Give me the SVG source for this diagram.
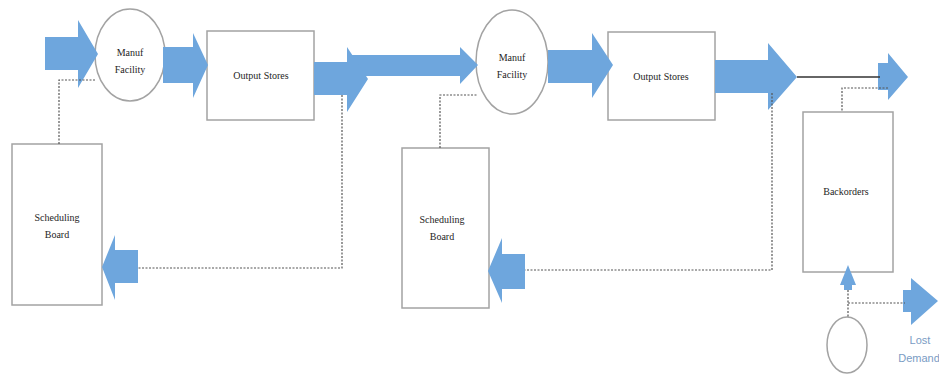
<svg xmlns="http://www.w3.org/2000/svg" width="939" height="374" viewBox="0 0 939 374">
<style>
.box{fill:#fff;stroke:#a3a3a3;stroke-width:1.5}
.arr{fill:#6ea6dd}
.dot{fill:none;stroke:#555;stroke-width:1.2;stroke-dasharray:2 1.5}
.lbl{font-family:"Liberation Serif","Times New Roman",serif;font-size:10px;fill:#1e1e1e;text-anchor:middle}
.lost{font-family:"Liberation Sans Narrow","Liberation Sans",Arial,sans-serif;font-size:11px;fill:#7a9cc4;text-anchor:middle}
</style>
<rect width="939" height="374" fill="#fff"/>
<g id="manuf1"><ellipse class="box" cx="130" cy="55" rx="35" ry="46"/><text class="lbl" x="130" y="56">Manuf</text><text class="lbl" x="130" y="73">Facility</text></g>
<g id="output1"><rect class="box" x="207" y="31" width="107" height="89"/><text class="lbl" x="261" y="79">Output Stores</text></g>
<g id="manuf2"><ellipse class="box" cx="512" cy="62" rx="36" ry="52"/><text class="lbl" x="512" y="61">Manuf</text><text class="lbl" x="512" y="78">Facility</text></g>
<g id="output2"><rect class="box" x="608" y="32" width="107" height="88"/><text class="lbl" x="661" y="80">Output Stores</text></g>
<g id="sched1"><rect class="box" x="12" y="144" width="90" height="161"/><text class="lbl" x="57" y="221">Scheduling</text><text class="lbl" x="57" y="238">Board</text></g>
<g id="sched2"><rect class="box" x="402" y="148" width="87" height="160"/><text class="lbl" x="442" y="223">Scheduling</text><text class="lbl" x="442" y="240">Board</text></g>
<g id="backorders"><rect class="box" x="803" y="112" width="90" height="160"/><text class="lbl" x="846" y="195">Backorders</text></g>
<g id="source"><ellipse class="box" cx="847" cy="345" rx="20" ry="28"/></g>
<g id="connectors">
<polygon class="arr" points="45,37 78,37 78,20 98,54 78,88 78,70 45,70"/>
<polygon class="arr" points="163,47 193,47 193,33 208,65 193,98 193,83 163,83"/>
<polygon class="arr" points="352,55 460,55 460,47 478,65 460,84 460,76 352,76"/>
<polygon class="arr" points="314,62 347,62 347,47 368,79 347,112 347,95 314,95"/>
<polygon class="arr" points="548,50 592,50 592,33 613,65 592,98 592,83 548,83"/>
<polygon class="arr" points="715,60 768,60 768,43 797,77 768,110 768,93 715,93"/>
<polygon class="arr" points="878,63 888,63 888,53 908,77 888,100 888,90 878,90"/>
<polygon class="arr" points="138,250 115,250 115,235 102,267 115,300 115,283 138,283"/>
<polygon class="arr" points="525,254 502,254 502,238 488,271 502,303 502,289 525,289"/>
<polygon class="arr" points="848,265 856,285 852,285 852,290 844,290 844,285 840,285"/>
<polygon class="arr" points="903,290 911,290 911,278 938,301 911,325 911,312 903,312"/>
<line x1="797" y1="77" x2="880" y2="77" stroke="#333" stroke-width="1.5"/>
<polyline class="dot" points="59,144 59,80 95,80"/>
<polyline class="dot" points="342,95 342,268 138,268"/>
<polyline class="dot" points="440,148 440,95 478,95"/>
<polyline class="dot" points="772,93 772,270 525,270"/>
<polyline class="dot" points="888,88 842,88 842,112"/>
<polyline class="dot" points="848,290 848,317"/>
<polyline class="dot" points="848,303 905,303"/>
</g>
<text class="lost" x="920" y="344">Lost</text>
<text class="lost" x="919" y="362">Demand</text>
</svg>
